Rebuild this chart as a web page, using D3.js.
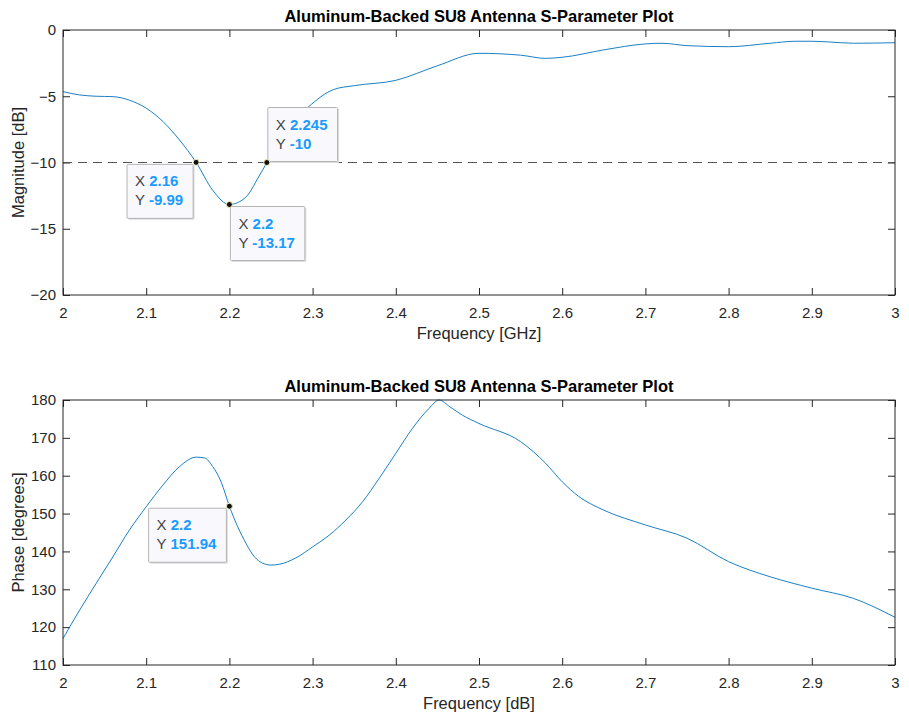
<!DOCTYPE html>
<meta charset="utf-8">
<script src="https://d3js.org/d3.v7.min.js"></script>
<style>
  body { margin: 0; background: #fff; }
  text { font-family: "Liberation Sans", Arial, sans-serif; }
</style>
<div id="chart"></div>
<script>

var magFreq = [2.0, 2.02, 2.04, 2.06, 2.08, 2.1, 2.12, 2.14, 2.16, 2.18, 2.2, 2.22, 2.235, 2.245, 2.26, 2.28, 2.295,
               2.325, 2.35, 2.4, 2.45, 2.5, 2.55, 2.58, 2.6, 2.65, 2.7, 2.72, 2.75, 2.8, 2.85, 2.88, 2.9, 2.92, 2.95, 3.0];
var magDb = [-4.65, -4.9, -5.0, -5.03, -5.3, -5.9, -6.9, -8.3, -9.99, -12.1, -13.17, -12.6, -11.1, -10.0, -8.2, -6.7, -5.8,
             -4.5, -4.2, -3.8, -2.7, -1.76, -1.9, -2.14, -2.06, -1.5, -1.05, -1.0, -1.18, -1.26, -1.0, -0.85, -0.85, -0.9, -1.0, -0.96];

var phaseFreq = [2.0, 2.02, 2.04, 2.06, 2.08, 2.1, 2.12, 2.14, 2.16, 2.17, 2.18, 2.19, 2.2, 2.21, 2.22, 2.23, 2.24, 2.25, 2.26,
                 2.28, 2.3, 2.32, 2.34, 2.36, 2.38, 2.4, 2.42, 2.44, 2.452, 2.465, 2.48, 2.5, 2.55, 2.58, 2.6, 2.62, 2.65,
                 2.7, 2.75, 2.8, 2.85, 2.9, 2.95, 3.0];
var phaseDeg = [117.0, 124.5, 131.6, 138.6, 145.7, 151.8, 157.5, 162.4, 164.9, 164.7, 162.4, 158.4, 151.94, 146.5, 142.1, 138.6, 136.9, 136.4, 136.6,
                138.3, 141.2, 144.3, 148.3, 153.1, 159.3, 165.9, 172.5, 177.8, 180.0, 178.2, 176.0, 173.8, 169.0, 163.3, 158.4, 154.5, 150.9,
                147.0, 143.5, 137.3, 133.3, 130.3, 127.6, 122.6];

var xTicks = [2, 2.1, 2.2, 2.3, 2.4, 2.5, 2.6, 2.7, 2.8, 2.9, 3];
var magTicks = [-20, -15, -10, -5, 0];
var phaseTicks = [110, 120, 130, 140, 150, 160, 170, 180];

// data tips: x, y label, and which side of the point the box sits on
var magTips = [
  {x: 2.16, y: -9.99, label: "-9.99", side: "bl"},
  {x: 2.2, y: -13.17, label: "-13.17", side: "br"},
  {x: 2.245, y: -10, label: "-10", side: "tr"}
];
var phaseTips = [
  {x: 2.2, y: 151.94, label: "151.94", side: "bl"}
];

var W = 909, H = 717;
var svg = d3.select("#chart").append("svg").attr("width", W).attr("height", H);

var left = 63, right = 895;
var x = d3.scaleLinear().domain([2, 3]).range([left, right]);

function panel(top, bottom, yDomain, yTicks, xs, ys, tips, title, xlab, ylab, refLine) {
  var y = d3.scaleLinear().domain(yDomain).range([bottom, top]);
  var g = svg.append("g");
  var ink = "#262626";

  g.append("rect").attr("x", left).attr("y", top).attr("width", right - left).attr("height", bottom - top)
    .attr("fill", "#fff");

  // ticks on all four sides, pointing in
  var tl = 7;
  g.append("g").attr("transform", "translate(0," + bottom + ")")
    .call(d3.axisBottom(x).tickValues(xTicks).tickSize(-tl).tickPadding(12).tickFormat(d3.format("")));
  g.append("g").attr("transform", "translate(0," + top + ")")
    .call(d3.axisTop(x).tickValues(xTicks).tickSize(-tl).tickFormat(""));
  g.append("g").attr("transform", "translate(" + left + ",0)")
    .call(d3.axisLeft(y).tickValues(yTicks).tickSize(-tl).tickPadding(7));
  g.append("g").attr("transform", "translate(" + right + ",0)")
    .call(d3.axisRight(y).tickValues(yTicks).tickSize(-tl).tickFormat(""));
  g.selectAll(".domain").remove();
  g.selectAll(".tick line").attr("stroke", ink);
  g.selectAll(".tick text").attr("fill", ink).style("font-size", "15px");

  if (refLine !== undefined) {
    g.append("line").attr("x1", left).attr("x2", right).attr("y1", y(refLine)).attr("y2", y(refLine))
      .attr("stroke", "#555").attr("stroke-width", 1).attr("stroke-dasharray", "9,6");
  }

  var line = d3.line().x(function(d) { return x(d[0]); }).y(function(d) { return y(d[1]); })
    .curve(d3.curveMonotoneX);
  g.append("path").datum(d3.zip(xs, ys)).attr("d", line)
    .attr("fill", "none").attr("stroke", "#0072bd").attr("stroke-width", 0.9);

  g.append("rect").attr("x", left).attr("y", top).attr("width", right - left).attr("height", bottom - top)
    .attr("fill", "none").attr("stroke", ink).attr("stroke-width", 1);

  // data tips
  tips.forEach(function(t) {
    var px = x(t.x), py = y(t.y);
    var tip = g.append("g");
    var shadow = tip.append("rect").attr("fill", "#ddd").attr("rx", 1);
    var box = tip.append("rect").attr("fill", "#f8f8fd").attr("stroke", "#b4b4b4").attr("stroke-width", 1).attr("rx", 1);
    var rows = [["X", d3.format("")(t.x)], ["Y", t.label]];
    var texts = rows.map(function(r, i) {
      var tx = tip.append("text").attr("y", 22 + i * 19).style("font-size", "15px");
      tx.append("tspan").attr("fill", "#444").text(r[0] + " ");
      tx.append("tspan").attr("fill", "#1a9bff").attr("font-weight", "bold").text(r[1]);
      return tx;
    });
    var tw = d3.max(texts, function(tx) { return tx.node().getComputedTextLength(); });
    var bw = tw + 18, bh = 54;
    var bx = t.side[1] === "l" ? px - 3 - bw : px + 1;
    var by = t.side[0] === "b" ? py + 2 : py - 1 - bh;
    texts.forEach(function(tx) { tx.attr("x", bx + 8).attr("y", by + +tx.attr("y")); });
    shadow.attr("x", bx + 1.5).attr("y", by + 1.5).attr("width", bw).attr("height", bh);
    box.attr("x", bx).attr("y", by).attr("width", bw).attr("height", bh);
    g.append("circle").attr("cx", px).attr("cy", py).attr("r", 3)
      .attr("fill", "#111").attr("stroke", "#f4f0c0").attr("stroke-width", 1);
  });

  g.append("text").attr("x", (left + right) / 2).attr("y", top - 8).attr("text-anchor", "middle")
    .style("font-size", "16.5px").attr("font-weight", "bold").attr("fill", "#000").text(title);
  g.append("text").attr("x", (left + right) / 2).attr("y", bottom + 44).attr("text-anchor", "middle")
    .style("font-size", "16.5px").attr("fill", ink).text(xlab);
  g.append("text").attr("transform", "translate(24," + ((top + bottom) / 2) + ") rotate(-90)")
    .attr("text-anchor", "middle").style("font-size", "16.5px").attr("fill", ink).text(ylab);
}

panel(30, 295, [-20, 0], magTicks, magFreq, magDb, magTips,
  "Aluminum-Backed SU8 Antenna S-Parameter Plot", "Frequency [GHz]", "Magnitude [dB]", -10);
panel(400, 665, [110, 180], phaseTicks, phaseFreq, phaseDeg, phaseTips,
  "Aluminum-Backed SU8 Antenna S-Parameter Plot", "Frequency [dB]", "Phase [degrees]");

</script>
